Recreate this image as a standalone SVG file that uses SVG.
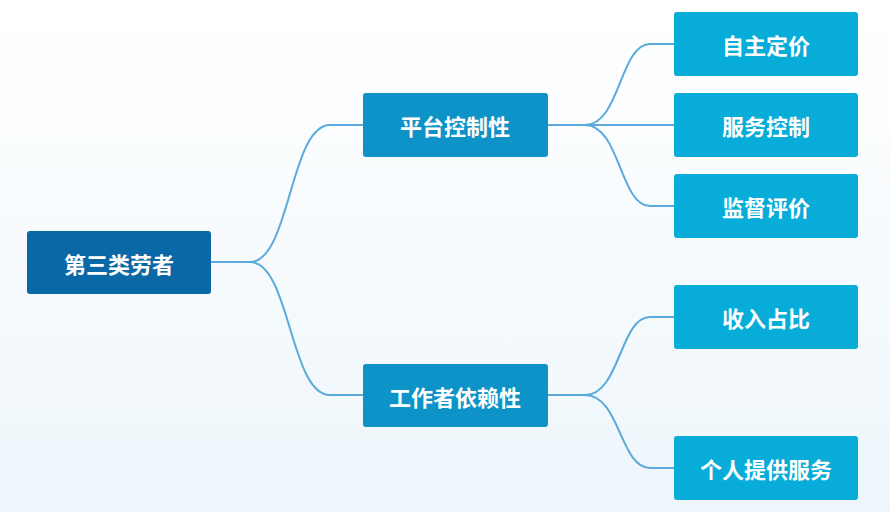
<svg xmlns="http://www.w3.org/2000/svg" width="890" height="512" viewBox="0 0 890 512">
<defs>
<linearGradient id="bg" x1="0" y1="0" x2="0" y2="1"><stop offset="0" stop-color="#ffffff"/><stop offset="1" stop-color="#eef6fb"/></linearGradient>
<style>
.t{font-family:"Noto Sans CJK SC","Noto Sans",sans-serif;font-size:22px;font-weight:bold;fill:#fff;text-anchor:middle;dominant-baseline:central}
.c{fill:none;stroke:#5aaadc;stroke-width:2}
.r{fill:#0b68a6}.m{fill:#0d93c8}.l{fill:#07acd8}
</style>
</defs>
<rect width="890" height="512" fill="url(#bg)"/>
<g id="connectors">
<path class="c" d="M211,262 H250 C290,262 290,125 330,125 H363"/>
<path class="c" d="M211,262 H250 C290,262 290,395 330,395 H363"/>
<path class="c" d="M548,125 H585 C620,125 620,44 650,44 H674"/>
<path class="c" d="M548,125 H674"/>
<path class="c" d="M585,125 C620,125 620,206 650,206 H674"/>
<path class="c" d="M548,395 H585 C620,395 620,317 650,317 H674"/>
<path class="c" d="M585,395 C620,395 620,468 650,468 H674"/>
</g>
<g id="root"><rect class="r" x="27" y="231" width="184" height="63" rx="3"/><text class="t" x="119" y="263">第三类劳者</text></g>
<g id="n1"><rect class="m" x="363" y="93" width="185" height="64" rx="3"/><text class="t" x="455" y="125">平台控制性</text></g>
<g id="n2"><rect class="m" x="363" y="364" width="185" height="63" rx="3"/><text class="t" x="455" y="396">工作者依赖性</text></g>
<g id="n11"><rect class="l" x="674" y="12" width="184" height="64" rx="3"/><text class="t" x="766" y="44">自主定价</text></g>
<g id="n12"><rect class="l" x="674" y="93" width="184" height="64" rx="3"/><text class="t" x="766" y="125">服务控制</text></g>
<g id="n13"><rect class="l" x="674" y="174" width="184" height="64" rx="3"/><text class="t" x="766" y="206">监督评价</text></g>
<g id="n21"><rect class="l" x="674" y="285" width="184" height="64" rx="3"/><text class="t" x="766" y="317">收入占比</text></g>
<g id="n22"><rect class="l" x="674" y="436" width="184" height="64" rx="3"/><text class="t" x="766" y="468">个人提供服务</text></g>
</svg>
